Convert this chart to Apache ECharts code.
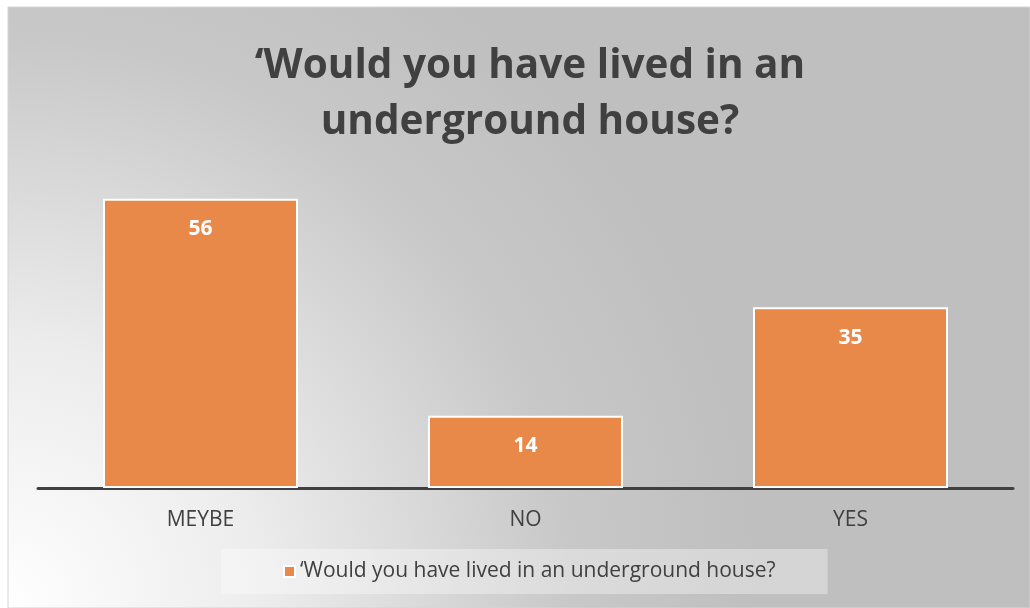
<!DOCTYPE html>
<html><head><meta charset="utf-8">
<script src="https://cdn.jsdelivr.net/npm/echarts@6/dist/echarts.min.js"></script>
<style>html,body{margin:0;padding:0;background:#fff;}#c{width:1030px;height:608px;}</style>
</head><body><div id="c"></div>
<script>
const titleText = "‘Would you have lived in an\nunderground house?";
const seriesName = "‘Would you have lived in an underground house?";
const categories = ["MEYBE", "NO", "YES"];
const values = [56, 14, 35];

const chart = echarts.init(document.getElementById('c'), null, {renderer: 'canvas'});
const font = "'Open Sans', sans-serif";
chart.setOption({
  animation: false,
  backgroundColor: '#ffffff',
  graphic: [
    {type: 'rect', z: -10, shape: {x: 8, y: 7, width: 1022, height: 601},
     style: {fill: {type: 'radial', x: 0, y: 608, r: 760, global: true,
       colorStops: [{offset: 0, color: '#ffffff'}, {offset: 0.35, color: '#ececec'}, {offset: 0.75, color: '#c8c8c8'}, {offset: 1, color: '#bfbfbf'}]},
       stroke: '#d4d4d4', lineWidth: 1}}
  ],
  title: {
    text: titleText, left: 525, top: 33, textAlign: 'center',
    textStyle: {fontFamily: font, fontWeight: 'bold', fontSize: 40.5, color: '#404040', lineHeight: 56}
  },
  legend: {
    data: [seriesName], bottom: 14, left: 221,
    backgroundColor: 'rgba(255,255,255,0.35)',
    padding: [12, 52, 12, 62],
    itemWidth: 11, itemHeight: 11, icon: 'rect', itemGap: 8,
    textStyle: {fontFamily: font, fontSize: 21, color: '#404040'}
  },
  grid: {left: 38, right: 17, top: 178, bottom: 120, containLabel: false},
  xAxis: {
    type: 'category', data: categories,
    axisLine: {lineStyle: {color: '#404040', width: 3}},
    axisTick: {show: false},
    axisLabel: {fontFamily: font, fontSize: 21, color: '#404040', margin: 22}
  },
  yAxis: {type: 'value', min: 0, max: 60, show: false, splitLine: {show: false}},
  series: [{
    name: seriesName, type: 'bar', data: values, barWidth: '60%',
    itemStyle: {color: '#E8894A', borderColor: '#ffffff', borderWidth: 2},
    label: {show: true, position: 'insideTop', distance: 20, fontFamily: font, fontWeight: 'bold', fontSize: 21, color: '#ffffff'}
  }]
});
</script></body></html>
